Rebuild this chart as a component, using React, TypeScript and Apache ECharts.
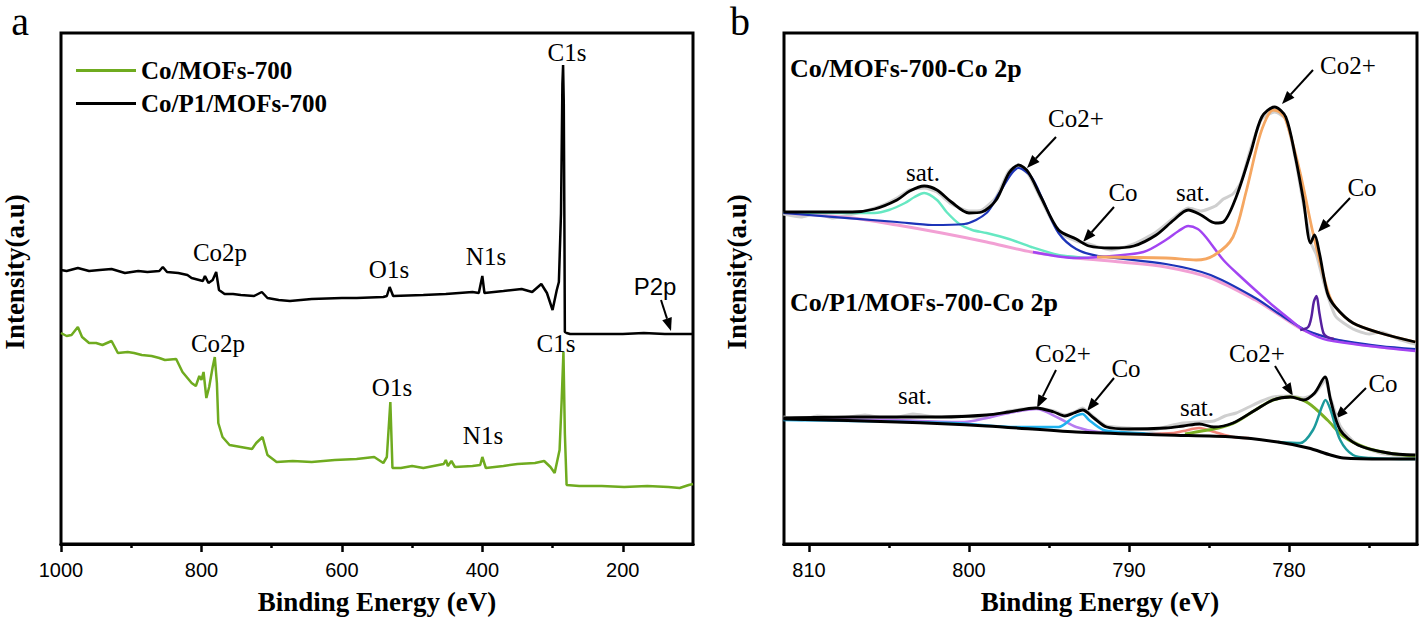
import React, { useEffect, useRef } from "react";
import * as echarts from "echarts";

// ---------- Panel a: survey spectra (Binding Energy eV, Intensity a.u.) ----------
const surveyGreen: [number, number][] = [
  [1000, 211], [992, 208], [985, 209], [976, 217], [970, 207], [960, 201], [950, 201], [941, 199],
  [928, 203], [919, 191], [905, 192], [896, 191], [885, 189], [871, 188], [860, 186], [852, 184],
  [836, 185], [827, 172], [814, 161], [808, 158], [803, 168], [800, 164], [797, 172], [793, 146],
  [789, 157], [784, 177], [781, 187], [778, 161], [776, 121], [770, 107], [760, 99], [752, 98],
  [744, 97], [736, 96], [728, 95], [722, 101], [713, 107], [706, 89], [693, 82], [670, 83],
  [643, 82], [610, 84], [579, 85], [554, 87], [541, 81], [536, 87], [531, 142], [528, 76],
  [516, 76], [500, 78], [484, 76], [455, 80], [452, 84], [449, 78], [444, 83], [439, 77],
  [414, 78], [403, 79], [400, 87], [395, 76], [370, 78], [350, 80], [325, 81], [312, 83],
  [303, 77], [297, 71], [290, 94], [287, 144], [284.5, 192], [282.5, 111], [280, 59], [262, 58],
  [230, 58], [198, 57], [165, 58], [135, 57], [119, 56], [106, 59], [100, 60],
];

const surveyBlack: [number, number][] = [
  [1000, 274], [992, 273], [976, 276], [960, 273], [945, 274], [928, 275], [909, 271], [890, 273],
  [877, 272], [860, 273], [855, 277], [849, 272], [833, 271], [820, 269], [814, 266], [798, 263],
  [795, 268], [790, 261], [784, 264], [779, 272], [775, 254], [767, 250], [755, 250], [744, 249],
  [725, 248], [714, 252], [706, 246], [690, 244], [674, 243], [643, 245], [600, 246], [579, 246],
  [541, 247], [536, 248], [532, 257], [527, 248], [484, 249], [452, 250], [414, 252], [405, 251],
  [400, 268], [397, 251], [370, 253], [344, 255], [329, 252], [316, 260], [308, 251], [300, 234],
  [294, 254], [291, 262], [288, 330], [286, 460], [285, 479], [284, 440], [283, 300], [282.5, 212],
  [280, 211], [275, 210], [240, 210], [200, 210], [170, 211], [140, 210], [100, 210],
];

const surveyNames = ["Co/MOFs-700", "Co/P1/MOFs-700"];

// ---------- Panel b: Co 2p high-resolution spectra ----------
// upper: Co/MOFs-700
const topRaw: [number, number][] = [
  [811.6, 330], [810.5, 327], [809.5, 331], [808.5, 326], [807.5, 329], [806.5, 333], [805.5, 338],
  [804.5, 346], [803.7, 354], [802.8, 356], [802.0, 352], [801.1, 340], [800.0, 333], [799.2, 334],
  [798.3, 347], [797.5, 373], [796.9, 377], [796.3, 370], [795.5, 345], [794.4, 312], [793.3, 303],
  [792.5, 300], [791.1, 294], [789.7, 300], [788.3, 312], [787.2, 326], [786.3, 336], [785.5, 333],
  [784.6, 338], [784.1, 345], [783.5, 350], [783.0, 362], [782.4, 395], [781.7, 425], [780.9, 432],
  [780.2, 425], [779.6, 385], [779.1, 340], [778.6, 300], [778.3, 290], [777.8, 260], [777.1, 228],
  [776.0, 215], [775.0, 210], [774.3, 212], [773.0, 204], [772.1, 200],
];
const topFit: [number, number][] = [
  [811.6, 332], [807.3, 332], [805.9, 335], [804.5, 344], [803.7, 353], [802.8, 358], [802.0, 354],
  [801.1, 342], [800.0, 331], [799.2, 332], [798.3, 344], [797.5, 371], [796.9, 379], [796.3, 372],
  [795.5, 347], [794.4, 314], [793.3, 305], [792.5, 298], [791.1, 296], [789.7, 298], [788.3, 309],
  [787.2, 324], [786.3, 334], [785.5, 329], [784.6, 321], [784.1, 322], [783.3, 347], [782.4, 391],
  [781.7, 427], [780.9, 437], [780.2, 427], [779.6, 387], [779.1, 344], [778.65, 301], [778.4, 309],
  [778.1, 291], [777.6, 251], [777.1, 237], [776.0, 221], [774.3, 211], [772.1, 202],
];
const topSat1: [number, number][] = [
  [811.6, 331], [807.3, 331], [805.9, 331], [805.0, 334], [804.0, 341], [803.4, 347], [802.8, 351],
  [802.0, 344], [801.4, 332], [800.6, 320], [799.8, 314], [798.9, 311], [797.5, 305], [796.1, 297],
  [794.4, 289], [793.3, 287], [792.5, 286],
];
const topCo2a: [number, number][] = [
  [811.6, 331], [804.5, 322], [802.3, 319], [800.3, 320], [798.9, 331], [798.1, 351], [796.9, 376],
  [796.1, 367], [795.3, 341], [794.4, 311], [793.3, 295], [791.9, 288], [787.7, 280], [784.9, 269],
  [782.1, 246], [780.7, 231], [779.1, 215], [777.7, 207], [776.5, 203], [774.3, 198], [772.1, 195],
];
const topBase: [number, number][] = [
  [811.6, 331], [807.3, 326], [804.5, 319], [801.7, 311], [798.9, 302], [796.1, 292], [793.3, 286],
  [790.5, 282], [787.7, 277], [784.9, 266], [782.1, 244], [780.7, 230], [779.1, 214], [777.7, 207],
  [776.5, 202], [774.3, 197], [772.1, 194],
];
const topSat2: [number, number][] = [
  [796.0, 292], [793.3, 286], [791.9, 287], [789.1, 292], [787.7, 304], [786.9, 313], [786.3, 318],
  [785.7, 315], [785.2, 307], [784.1, 284], [783.0, 267], [781.9, 251], [780.9, 237], [779.9, 224],
  [779.1, 214], [777.6, 204], [772.1, 193],
];
const topCo2b: [number, number][] = [
  [792.0, 287], [787.7, 286], [785.8, 284], [784.65, 289], [783.5, 307], [782.7, 351], [781.9, 404],
  [781.4, 426], [781.0, 434], [780.6, 432], [780.2, 424], [779.3, 371], [778.5, 311], [777.6, 254],
  [777.1, 237], [776.0, 221], [774.3, 211], [772.1, 202],
];
const topCo: [number, number][] = [
  [779.3, 214], [778.8, 217], [778.6, 227], [778.45, 242], [778.28, 248], [778.1, 231],
  [777.85, 211], [777.6, 207], [777.2, 205],
];

// lower: Co/P1/MOFs-700
const botRaw: [number, number][] = [
  [811.6, 127], [810.5, 124], [809.5, 128], [808, 126], [806.5, 129], [805, 125], [803.5, 130],
  [802, 127], [800.5, 128], [799, 126], [797.5, 133], [795.8, 136], [794.7, 133], [794, 129],
  [793.4, 132], [792.9, 136], [792.2, 127], [791.4, 118], [790, 116], [788.5, 114], [787.5, 118],
  [786.6, 121], [785.6, 122], [784.7, 123], [784, 128], [783.3, 131], [782.5, 137], [781.7, 143],
  [781, 147], [779.9, 148], [779.1, 146], [778.4, 150], [777.75, 163], [777.4, 146], [776.8, 118],
  [776, 103], [775.2, 96], [774, 90], [772.1, 87],
];
const botFit: [number, number][] = [
  [811.6, 126], [807.3, 127], [803.9, 127], [801.7, 127], [798.9, 129], [797.5, 132], [795.8, 136],
  [794.7, 132], [794.0, 128], [793.45, 131], [792.9, 134], [792.2, 126], [791.4, 117], [790.0, 115],
  [787.7, 116], [786.6, 118], [785.6, 120], [784.7, 117], [783.5, 121], [782.1, 134], [781.0, 144],
  [779.9, 147], [779.1, 144], [778.4, 151], [777.75, 167], [777.4, 144], [776.8, 114], [775.7, 99],
  [773.8, 91], [772.1, 89],
];
const botBase: [number, number][] = [
  [811.6, 125], [804.5, 122], [798.9, 118], [793.3, 112], [787.7, 109], [783.5, 107], [780.7, 102],
  [778.8, 96], [777.4, 89], [776.6, 86], [774.0, 85], [772.1, 85],
];
const botCo2a: [number, number][] = [
  [811.6, 125], [805, 124], [800.3, 122], [798.9, 126], [797.5, 131], [795.8, 135], [794.4, 126],
  [793.3, 117], [791.9, 112], [789, 110],
];
const botCoA: [number, number][] = [
  [811.6, 124], [801, 121], [797, 117], [794.4, 117], [793.45, 127], [792.9, 130], [792.5, 124],
  [791.6, 114], [790.5, 112], [788, 110],
];
const botSat: [number, number][] = [
  [789, 110], [787.2, 111], [786.6, 113], [785.6, 116], [784.65, 112], [783.5, 107], [782.5, 106],
];
const botCo2b: [number, number][] = [
  [786.5, 110], [785.8, 112], [784.4, 116], [783.3, 122], [782.1, 134], [781.0, 144], [779.9, 147],
  [778.8, 141], [777.6, 124], [776.55, 107], [775.15, 96], [773.8, 91], [772.1, 88],
];
const botCoB: [number, number][] = [
  [780.7, 102], [779.3, 101], [778.5, 114], [777.95, 137], [777.72, 144], [777.4, 134], [776.8, 104],
  [776.0, 89], [774.9, 86], [772.1, 85],
];

const ticksA = [200, 400, 600, 800, 1000];
const minorA = [300, 500, 700, 900];
const ticksB = [780, 790, 800, 810];
const minorB = [775, 785, 795, 805];

const SERIF = '"Liberation Serif", "Times New Roman", serif';
const SANS = '"Liberation Sans", Arial, sans-serif';

function arrow(x1: number, y1: number, x2: number, y2: number) {
  const ang = Math.atan2(y2 - y1, x2 - x1);
  const L = 13, W = 5;
  const bx = x2 - L * Math.cos(ang), by = y2 - L * Math.sin(ang);
  const px = -Math.sin(ang) * W, py = Math.cos(ang) * W;
  return [
    { type: "line", shape: { x1, y1, x2: bx, y2: by }, style: { stroke: "#000", lineWidth: 2 } },
    {
      type: "polygon",
      shape: { points: [[x2, y2], [bx + px, by + py], [bx - px, by - py]] },
      style: { fill: "#000" },
    },
  ];
}

function label(text: string, x: number, y: number, size = 25, family = SERIF, weight = "normal", align = "center", valign = "middle") {
  return {
    type: "text",
    x,
    y,
    style: { text, fontSize: size, fontFamily: family, fontWeight: weight, fill: "#000", align, verticalAlign: valign },
  };
}

function line(name: string, data: [number, number][], color: string, xi: number, yi: number, width = 2.5, z = 2) {
  return {
    name,
    type: "line",
    data,
    xAxisIndex: xi,
    yAxisIndex: yi,
    symbol: "none",
    showSymbol: false,
    smooth: 0.3,
    z,
    lineStyle: { color, width },
    itemStyle: { color },
    emphasis: { disabled: true },
  };
}

export default function App() {
  const ref = useRef<HTMLDivElement>(null);
  useEffect(() => {
    if (!ref.current) return;
    const chart = echarts.init(ref.current, undefined, { renderer: "svg" });
    const axisCommon = {
      type: "value",
      inverse: true,
      position: "bottom",
      axisLine: { show: true, lineStyle: { color: "#000", width: 3 } },
      splitLine: { show: false },
    };
    const fmt = (v: number) => String(v);
    const graphic: any[] = [
      label("a", 20, 1, 40, SERIF, "normal", "center", "top"),
      label("b", 740, 1, 40, SERIF, "normal", "center", "top"),
      { ...label("Intensity(a.u)", 15, 272, 27, SERIF, "bold"), rotation: Math.PI / 2 },
      { ...label("Intensity(a.u)", 737, 272, 27, SERIF, "bold"), rotation: Math.PI / 2 },
      label("Binding Energy (eV)", 377, 602, 27, SERIF, "bold"),
      label("Binding Energy (eV)", 1100, 602, 27, SERIF, "bold"),
      // panel a annotations
      label("C1s", 567, 52),
      label("Co2p", 220, 252),
      label("O1s", 389, 269),
      label("N1s", 486, 256),
      label("P2p", 655, 286, 24, SANS),
      ...arrow(661, 300, 671, 331),
      label("Co2p", 218, 343),
      label("C1s", 556, 343),
      label("O1s", 392, 387),
      label("N1s", 483, 435),
      // panel b annotations
      label("Co/MOFs-700-Co 2p", 790, 68, 26, SERIF, "bold", "left"),
      label("Co/P1/MOFs-700-Co 2p", 790, 302, 26, SERIF, "bold", "left"),
      label("sat.", 923, 172),
      label("Co2+", 1076, 118),
      ...arrow(1056, 137, 1027, 168),
      label("Co", 1123, 192),
      ...arrow(1114, 207, 1083, 242),
      label("sat.", 1193, 192),
      label("Co2+", 1348, 65),
      ...arrow(1313, 70, 1282, 104),
      label("Co", 1362, 187),
      ...arrow(1350, 198, 1318, 232),
      label("sat.", 915, 395),
      label("Co2+", 1063, 353),
      ...arrow(1056, 370, 1037, 408),
      label("Co", 1126, 368),
      ...arrow(1114, 378, 1087, 411),
      label("sat.", 1197, 407),
      label("Co2+", 1257, 353),
      ...arrow(1275, 366, 1293, 396),
      label("Co", 1383, 383),
      ...arrow(1366, 388, 1335, 419),
    ];
    chart.setOption({
      animation: false,
      backgroundColor: "#fff",
      grid: [
        { left: 61, top: 33, width: 632, height: 511, show: true, borderColor: "#000", borderWidth: 3, outerBoundsMode: "none" },
        { left: 784, top: 33, width: 633, height: 511, show: true, borderColor: "#000", borderWidth: 3, outerBoundsMode: "none" },
      ],
      legend: {
        data: surveyNames,
        left: 71,
        top: 53,
        orient: "vertical",
        icon: "rect",
        itemWidth: 60,
        itemHeight: 3,
        itemGap: 8,
        selectedMode: false,
        textStyle: { fontFamily: SERIF, fontWeight: "bold", fontSize: 25, lineHeight: 25, color: "#000" },
      },
      xAxis: [
        {
          ...axisCommon,
          gridIndex: 0,
          min: 100,
          max: 1000,
          axisTick: { show: true, inside: false, length: 8, lineStyle: { width: 2.5, color: "#000" }, customValues: ticksA },
          axisLabel: { show: true, margin: 16, fontFamily: SANS, fontSize: 20, color: "#000", customValues: ticksA, formatter: fmt },
        },
        {
          ...axisCommon,
          gridIndex: 0,
          min: 100,
          max: 1000,
          axisTick: { show: true, inside: false, length: 4, lineStyle: { width: 2.5, color: "#000" }, customValues: minorA },
          axisLabel: { show: false },
        },
        {
          ...axisCommon,
          gridIndex: 1,
          min: 772,
          max: 811.56,
          axisTick: { show: true, inside: false, length: 8, lineStyle: { width: 2.5, color: "#000" }, customValues: ticksB },
          axisLabel: { show: true, margin: 16, fontFamily: SANS, fontSize: 20, color: "#000", customValues: ticksB, formatter: fmt },
        },
        {
          ...axisCommon,
          gridIndex: 1,
          min: 772,
          max: 811.56,
          axisTick: { show: true, inside: false, length: 4, lineStyle: { width: 2.5, color: "#000" }, customValues: minorB },
          axisLabel: { show: false },
        },
      ],
      yAxis: [
        { type: "value", gridIndex: 0, min: 0, max: 511, axisLine: { show: false }, axisTick: { show: false }, axisLabel: { show: false }, splitLine: { show: false } },
        { type: "value", gridIndex: 1, min: 0, max: 511, axisLine: { show: false }, axisTick: { show: false }, axisLabel: { show: false }, splitLine: { show: false } },
      ],
      series: [
        { ...line(surveyNames[0], surveyGreen, "#6fab1f", 0, 0, 2.5), smooth: false },
        { ...line(surveyNames[1], surveyBlack, "#000000", 0, 0, 2.5), smooth: false },
        // top Co 2p
        { ...line("raw1", topRaw, "#cfcfcf", 2, 1, 3, 1), smooth: 0.2 },
        line("base1", topBase, "#f2a0d4", 2, 1, 3, 2),
        line("sat1a", topSat1, "#66e8c2", 2, 1, 2.5, 3),
        line("co2a", topCo2a, "#1c34b8", 2, 1, 2.2, 3),
        line("sat1b", topSat2, "#a244f2", 2, 1, 2.5, 3),
        line("co2b", topCo2b, "#f5a762", 2, 1, 2.8, 3),
        line("co1", topCo, "#56209e", 2, 1, 2.5, 3),
        line("fit1", topFit, "#000000", 2, 1, 2.8, 4),
        // bottom Co 2p
        { ...line("raw2", botRaw, "#cfcfcf", 2, 1, 3, 1), smooth: 0.2 },
        line("co2c", botCo2a, "#b67cf0", 2, 1, 2.5, 3),
        line("coc", botCoA, "#1fb2ee", 2, 1, 2.5, 3),
        line("sat2", botSat, "#f28478", 2, 1, 2.5, 3),
        line("co2d", botCo2b, "#7bb024", 2, 1, 3, 3),
        line("cod", botCoB, "#1b9a9c", 2, 1, 2.5, 3),
        line("base2", botBase, "#000000", 2, 1, 3, 4),
        line("fit2", botFit, "#000000", 2, 1, 2.8, 4),
      ],
      graphic,
    });
    return () => chart.dispose();
  }, []);
  return (
    <div
      ref={ref}
      style={{ position: "fixed", left: 0, top: 0, width: 1419, height: 620, background: "#fff" }}
    />
  );
}
